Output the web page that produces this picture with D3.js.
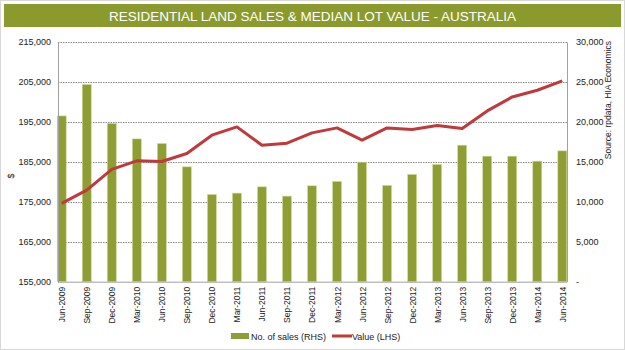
<!DOCTYPE html>
<html><head><meta charset="utf-8">
<script src="https://cdn.jsdelivr.net/npm/d3@7"></script>
<style>body{margin:0;background:#fff;font-family:"Liberation Sans",Arial,sans-serif;}</style>
</head><body><svg id="c" width="625" height="350"></svg>
<script>
const categories = ["Jun-2009","Sep-2009","Dec-2009","Mar-2010","Jun-2010","Sep-2010","Dec-2010","Mar-2011","Jun-2011","Sep-2011","Dec-2011","Mar-2012","Jun-2012","Sep-2012","Dec-2012","Mar-2013","Jun-2013","Sep-2013","Dec-2013","Mar-2014","Jun-2014"];
const salesRHS = [20750,24675,19800,17875,17300,14375,10925,11088,11875,10712,12000,12550,14962,12050,13425,14675,17088,15712,15712,15088,16375];
const valueLHS = [174600,177925,183100,185250,185100,187100,191675,193750,189175,189675,192250,193500,190425,193500,193100,194100,193350,197750,201250,202925,205250];
const leftTicks = [155000,165000,175000,185000,195000,205000,215000];
const rightTicks = [0,5000,10000,15000,20000,25000,30000];
const title = "RESIDENTIAL LAND SALES & MEDIAN LOT VALUE - AUSTRALIA";

const svg = d3.select("#c");
const L = 58, R = 567, T = 42, B = 281.7;
svg.append("rect").attr("x",0.5).attr("y",0.5).attr("width",624).attr("height",349).attr("fill","none").attr("stroke","#d8d8d8");
svg.append("rect").attr("x",4).attr("y",4).attr("width",617).attr("height",23).attr("fill","#8b9a2c");
svg.append("text").attr("x",312.5).attr("y",20.5).attr("text-anchor","middle").attr("fill","#fff").attr("font-size",13.5).text(title);

const x = d3.scalePoint().domain(categories).range([61.7,562.3]);
const yL = d3.scaleLinear().domain([155000,215000]).range([B,T]);
const yR = d3.scaleLinear().domain([0,30000]).range([B,T]);

// gridlines
svg.append("g").selectAll("line").data(leftTicks.slice(1)).join("line")
  .attr("x1",L).attr("x2",R).attr("y1",d=>Math.round(yL(d))+0.5).attr("y2",d=>Math.round(yL(d))+0.5)
  .attr("stroke","#8c8c8c").attr("stroke-width",1).attr("stroke-dasharray","1.5,1");

// bars
const bw = 9;
svg.append("g").selectAll("rect").data(salesRHS).join("rect")
  .attr("x",(d,i)=>x(categories[i])-bw/2).attr("width",bw)
  .attr("y",d=>yR(d)).attr("height",d=>B-yR(d))
  .attr("fill","#8f9d35").attr("stroke","#d3dc9c").attr("stroke-width",0.6);

// line
svg.append("path").datum(valueLHS)
  .attr("d",d3.line().x((d,i)=>x(categories[i])).y(d=>yL(d)))
  .attr("fill","none").attr("stroke","#c0393b").attr("stroke-width",3).attr("stroke-linejoin","round");

// axes
const fmt = d3.format(",");
const gl = svg.append("g").attr("transform",`translate(${L},0)`)
  .call(d3.axisLeft(yL).tickValues(leftTicks).tickFormat(fmt).tickSize(0).tickPadding(7));
const gr = svg.append("g").attr("transform",`translate(${R},0)`)
  .call(d3.axisRight(yR).tickValues(rightTicks).tickFormat(d=>d===0?"-":fmt(d)).tickSize(0).tickPadding(9));
const gx = svg.append("g").attr("transform",`translate(0,${B})`)
  .call(d3.axisBottom(x).tickSize(0).tickPadding(0));
[gl,gr,gx].forEach(g=>{
  g.select(".domain").attr("stroke","#a0a0a0");
  g.selectAll("text").attr("font-family","'Liberation Sans',Arial,sans-serif").attr("font-size",9).attr("fill","#222");
});
gx.select(".domain").attr("d",`M${L},0.5H${R}`);
gx.selectAll("text").attr("font-size",8.5).attr("transform","rotate(-90)").attr("text-anchor","end")
  .attr("x",-5).attr("y",0).attr("dy","0.35em");

// axis titles
svg.append("text").attr("transform","translate(14,176) rotate(-90)").attr("text-anchor","middle")
  .attr("font-size",9).attr("fill","#222").text("$");
svg.append("text").attr("transform","translate(611,41) rotate(-90)").attr("text-anchor","end")
  .attr("font-size",8.5).attr("fill","#222").text("Source: rpdata, HIA Economics");

// legend
svg.append("rect").attr("x",231).attr("y",333).attr("width",18).attr("height",6).attr("fill","#8f9d35");
svg.append("text").attr("x",251).attr("y",339.5).attr("font-size",9).attr("fill","#222").text("No. of sales (RHS)");
svg.append("line").attr("x1",332).attr("x2",352).attr("y1",336).attr("y2",336).attr("stroke","#c0393b").attr("stroke-width",3);
svg.append("text").attr("x",352).attr("y",339.5).attr("font-size",9).attr("fill","#222").text("Value (LHS)");
</script></body></html>
